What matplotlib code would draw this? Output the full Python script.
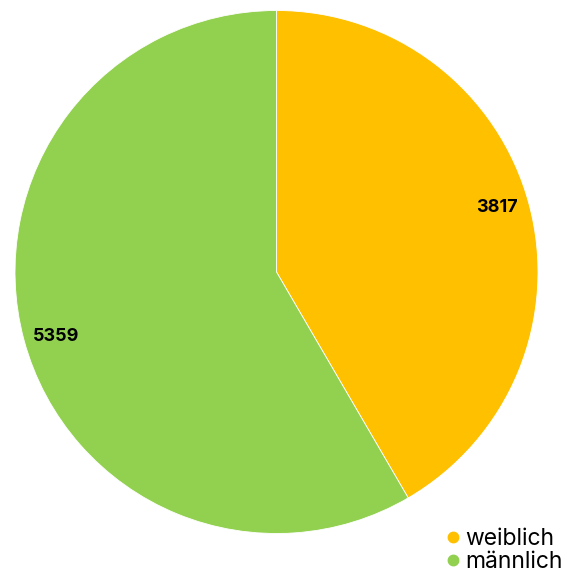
import numpy as np
import matplotlib.pyplot as plt
from matplotlib.lines import Line2D

labels = ['weiblich', 'männlich']
values = [3817, 5359]
colors = ['#FFC000', '#92D050']

plt.rcParams['font.family'] = ['Inter', 'DejaVu Sans']

W = 574
fig = plt.figure(figsize=(W / 100, W / 100), dpi=100)

# pie centre and radius in pixels
cx, cy, r = 276.5, 272, 261.5
ax = fig.add_axes([(cx - r) / W, (W - cy - r) / W, 2 * r / W, 2 * r / W])

wedges, _ = ax.pie(values, colors=colors, startangle=90, counterclock=False,
                   wedgeprops=dict(edgecolor='white', linewidth=0.6))

# value labels just inside the rim, a touch ahead of the wedge middle
for w, v in zip(wedges, values):
    ang = np.deg2rad((w.theta1 + w.theta2) / 2 + 1.3)
    ax.text(0.878 * np.cos(ang), 0.878 * np.sin(ang), str(v), ha='center', va='center',
            fontsize=13, fontweight='bold', color='black')

ax.set_xlim(-1, 1)
ax.set_ylim(-1, 1)
ax.set_aspect('equal')
ax.axis('off')

handles = [Line2D([], [], marker='o', linestyle='none', markersize=7.5,
                  markerfacecolor=c, markeredgecolor=c) for c in colors]
fig.legend(handles, labels, loc='lower right', bbox_to_anchor=(0.988, -0.006),
           frameon=False, fontsize=16.5, handletextpad=0.05, labelspacing=0.02,
           borderaxespad=0.0, borderpad=0.2, handlelength=1.0)

fig.savefig('out.png', dpi=100)
